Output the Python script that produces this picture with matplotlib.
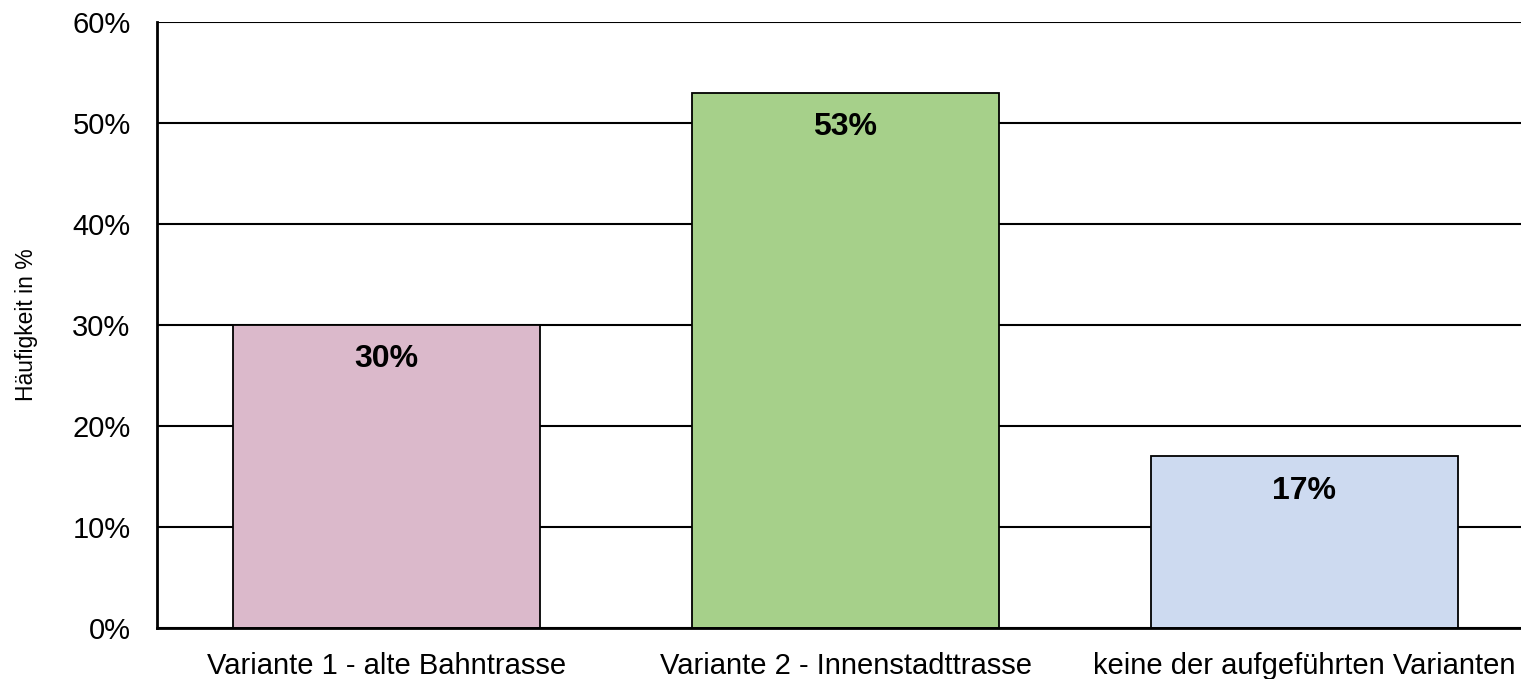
import matplotlib
matplotlib.use("Agg")
import matplotlib.pyplot as plt
from matplotlib.ticker import PercentFormatter

categories = ["Variante 1 - alte Bahntrasse", "Variante 2 - Innenstadttrasse",
              "keine der aufgeführten Varianten"]
values = [30, 53, 17]
colors = ["#DBB9CB", "#A6D08A", "#CDDAF0"]

plt.rcParams["font.family"] = ["Liberation Sans", "DejaVu Sans"]

fig = plt.figure(figsize=(15.21, 6.79), dpi=100)
ax = fig.add_axes([157 / 1521, 51 / 679, 1377 / 1521, 606 / 679])

ax.set_axisbelow(True)
ax.grid(axis="y", color="black", linewidth=1.5)
bars = ax.bar(range(len(categories)), values, width=0.67, color=colors,
              edgecolor="black", linewidth=1.3)

for b, v in zip(bars, values):
    ax.text(b.get_x() + b.get_width() / 2, v - 3.4, f"{v}%", ha="center", va="center",
            fontsize=23, fontweight="bold")

ax.set_xlim(-0.5, 2.5)
ax.set_ylim(0, 60)
ax.set_yticks(range(0, 61, 10))
ax.yaxis.set_major_formatter(PercentFormatter(decimals=0))
ax.set_xticks(range(len(categories)))
ax.set_xticklabels(categories)
ax.tick_params(length=0, labelsize=21, pad=17)
ax.tick_params(axis="y", pad=19)
ax.set_ylabel("Häufigkeit in %", fontsize=16.5, labelpad=25)

for side in ("top", "right"):
    ax.spines[side].set_visible(False)
for side in ("left", "bottom"):
    ax.spines[side].set_linewidth(2)

fig.savefig("out.png", dpi=100, facecolor="white")
